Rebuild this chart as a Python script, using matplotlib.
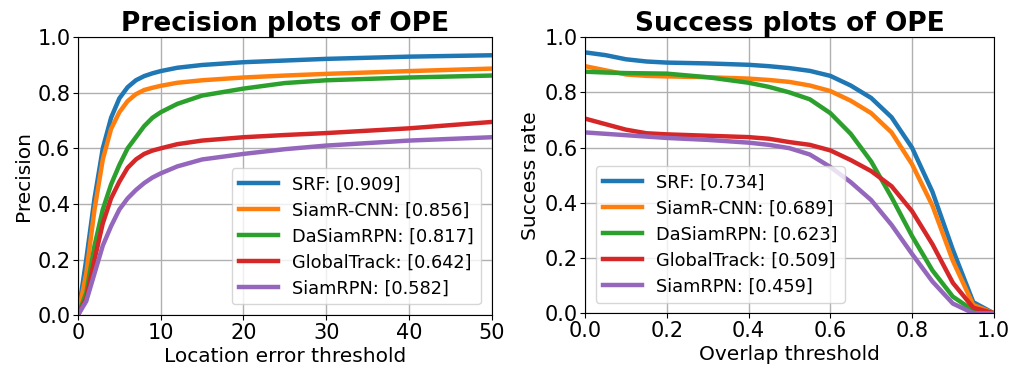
import matplotlib
matplotlib.use('Agg')
import matplotlib.pyplot as plt

names = ['SRF', 'SiamR-CNN', 'DaSiamRPN', 'GlobalTrack', 'SiamRPN']
prec_scores = [0.909, 0.856, 0.817, 0.642, 0.582]
succ_scores = [0.734, 0.689, 0.623, 0.509, 0.459]
colors = ['#1f77b4', '#ff7f0e', '#2ca02c', '#d62728', '#9467bd']

# precision curves (location error threshold)
prec_x = [0, 1, 2, 3, 4, 5, 6, 7, 8, 9, 10, 12, 15, 20, 25, 30, 40, 50]
prec_srf = [0, 0.20, 0.42, 0.60, 0.71, 0.78, 0.82, 0.845, 0.86, 0.87, 0.878, 0.89, 0.90, 0.91, 0.916, 0.922, 0.93, 0.935]
prec_siamrcnn = [0, 0.15, 0.38, 0.56, 0.67, 0.73, 0.77, 0.795, 0.81, 0.818, 0.825, 0.836, 0.845, 0.855, 0.862, 0.868, 0.878, 0.887]
prec_dasiam = [0, 0.08, 0.25, 0.38, 0.47, 0.54, 0.60, 0.64, 0.68, 0.71, 0.73, 0.76, 0.79, 0.815, 0.835, 0.845, 0.855, 0.862]
prec_global = [0, 0.06, 0.20, 0.33, 0.42, 0.48, 0.53, 0.56, 0.58, 0.592, 0.60, 0.615, 0.628, 0.64, 0.648, 0.655, 0.672, 0.695]
prec_siamrpn = [0, 0.05, 0.15, 0.25, 0.32, 0.38, 0.42, 0.45, 0.475, 0.495, 0.51, 0.535, 0.56, 0.58, 0.597, 0.61, 0.628, 0.64]

# success curves (overlap threshold)
succ_x = [0, 0.05, 0.1, 0.15, 0.2, 0.3, 0.4, 0.45, 0.5, 0.55, 0.6, 0.65, 0.7, 0.75, 0.8, 0.85, 0.9, 0.95, 1.0]
succ_srf = [0.945, 0.935, 0.92, 0.912, 0.908, 0.905, 0.90, 0.895, 0.888, 0.878, 0.86, 0.825, 0.78, 0.71, 0.60, 0.44, 0.23, 0.04, 0.0]
succ_siamrcnn = [0.895, 0.88, 0.865, 0.86, 0.858, 0.855, 0.85, 0.845, 0.838, 0.825, 0.805, 0.77, 0.725, 0.655, 0.54, 0.39, 0.19, 0.03, 0.0]
succ_dasiam = [0.875, 0.872, 0.87, 0.869, 0.868, 0.855, 0.835, 0.82, 0.80, 0.775, 0.725, 0.65, 0.55, 0.42, 0.28, 0.155, 0.06, 0.01, 0.0]
succ_global = [0.705, 0.685, 0.665, 0.652, 0.648, 0.643, 0.638, 0.632, 0.62, 0.61, 0.59, 0.555, 0.515, 0.46, 0.37, 0.25, 0.11, 0.02, 0.0]
succ_siamrpn = [0.655, 0.65, 0.645, 0.64, 0.635, 0.628, 0.618, 0.61, 0.598, 0.575, 0.53, 0.475, 0.41, 0.32, 0.215, 0.115, 0.035, 0.0, 0.0]

prec_curves = [prec_srf, prec_siamrcnn, prec_dasiam, prec_global, prec_siamrpn]
succ_curves = [succ_srf, succ_siamrcnn, succ_dasiam, succ_global, succ_siamrpn]

fig = plt.figure(figsize=(10.14, 3.72), dpi=100)
ax1 = fig.add_axes([0.0769, 0.153, 0.408, 0.747])
ax2 = fig.add_axes([0.577, 0.158, 0.403, 0.742])

for name, score, ys, c in zip(names, prec_scores, prec_curves, colors):
    ax1.plot(prec_x, ys, color=c, lw=3.2, label=f'{name}: [{score:.3f}]')
for name, score, ys, c in zip(names, succ_scores, succ_curves, colors):
    ax2.plot(succ_x, ys, color=c, lw=3.2, label=f'{name}: [{score:.3f}]')

ax1.set_xlim(0, 50)
ax1.set_ylim(0, 1)
ax1.set_xticks([0, 10, 20, 30, 40, 50])
ax1.set_title('Precision plots of OPE', fontsize=19, fontweight='bold', pad=4)
ax1.set_xlabel('Location error threshold', fontsize=14.5, labelpad=3)
ax1.set_ylabel('Precision', fontsize=14.5, labelpad=3)
ax1.legend(loc='lower right', fontsize=12.8, handlelength=2.2,
           borderaxespad=0.6, labelspacing=0.45)

ax2.set_xlim(0, 1)
ax2.set_ylim(0, 1)
ax2.set_xticks([0, 0.2, 0.4, 0.6, 0.8, 1.0])
ax2.set_title('Success plots of OPE', fontsize=19, fontweight='bold', pad=4)
ax2.set_xlabel('Overlap threshold', fontsize=14.5, labelpad=3)
ax2.set_ylabel('Success rate', fontsize=14.5, labelpad=3)
ax2.legend(loc='lower left', fontsize=12.8, handlelength=2.2,
           borderaxespad=0.6, labelspacing=0.45)

for ax in (ax1, ax2):
    ax.grid(True, color='#b0b0b0', lw=1)
    ax.tick_params(labelsize=15, pad=2)

fig.savefig('out.png', dpi=100)
